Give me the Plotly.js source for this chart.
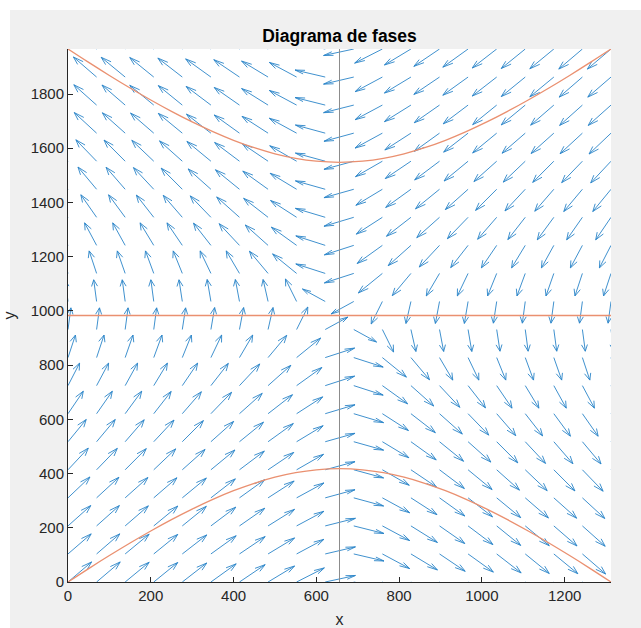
<!DOCTYPE html>
<html>
<head>
<meta charset="utf-8">
<script src="https://cdn.plot.ly/plotly-3.0.1.min.js"></script>
<style>
  html, body { margin: 0; padding: 0; background: #ffffff; }
  #chart { position: absolute; left: 0px; top: 0px; width: 641px; height: 628px; }
</style>
</head>
<body>
<div id="chart"></div>
<script>
// Grid of arrow tails (data units)
const xGrid = [0, 69.1, 138.1, 207.2, 276.2, 345.3, 414.3, 483.4, 552.4, 621.5, 690.5, 759.6, 828.6, 897.7, 966.7, 1035.8, 1104.8, 1173.9, 1242.9, 1312];
const yGrid = [0, 103.5, 206.9, 310.4, 413.9, 517.4, 620.8, 724.3, 827.8, 931.3, 1034.7, 1138.2, 1241.7, 1345.2, 1448.6, 1552.1, 1655.6, 1759.1, 1862.5, 1966];

// Arrow components (data units), one row per yGrid value
const U = [
  [57,57,58,58,59,61,62,64,67,73,73,67,64,62,61,59,58,58,57,57],
  [56,56,58,58,59,61,62,64,66,73,73,66,64,62,61,59,58,58,56,56],
  [55,55,56,58,58,60,61,64,66,73,73,66,64,61,60,58,58,56,55,55],
  [53,54,55,56,58,59,61,63,66,72,72,66,63,61,59,58,56,55,54,53],
  [49,50,51,53,55,58,60,62,65,72,72,65,62,60,58,55,53,51,50,49],
  [44,45,46,49,51,55,58,61,64,72,72,64,61,58,55,51,49,46,45,44],
  [37,38,40,42,46,50,55,59,63,72,72,63,59,55,50,46,42,40,38,37],
  [28,29,30,33,37,42,49,55,61,71,71,61,55,49,42,37,33,30,29,28],
  [18,18,19,20,22,26,32,45,58,71,71,58,45,32,26,22,20,19,18,18],
  [7,7,7,7,8,9,10,12,27,55,55,27,12,10,9,8,7,7,7,7],
  [-7,-7,-7,-7,-8,-9,-10,-12,-27,-55,-55,-27,-12,-10,-9,-8,-7,-7,-7,-7],
  [-18,-18,-19,-20,-22,-26,-32,-45,-58,-71,-71,-58,-45,-32,-26,-22,-20,-19,-18,-18],
  [-28,-29,-30,-33,-37,-42,-49,-55,-61,-71,-71,-61,-55,-49,-42,-37,-33,-30,-29,-28],
  [-37,-38,-40,-42,-46,-50,-55,-59,-63,-72,-72,-63,-59,-55,-50,-46,-42,-40,-38,-37],
  [-44,-45,-46,-49,-51,-55,-58,-61,-64,-72,-72,-64,-61,-58,-55,-51,-49,-46,-45,-44],
  [-49,-50,-51,-53,-55,-58,-60,-62,-65,-72,-72,-65,-62,-60,-58,-55,-53,-51,-50,-49],
  [-53,-54,-55,-56,-58,-59,-61,-63,-66,-72,-72,-66,-63,-61,-59,-58,-56,-55,-54,-53],
  [-55,-55,-56,-58,-58,-60,-61,-64,-66,-73,-73,-66,-64,-61,-60,-58,-58,-56,-55,-55],
  [-56,-56,-58,-58,-59,-61,-62,-64,-66,-73,-73,-66,-64,-62,-61,-59,-58,-58,-56,-56],
  [-57,-57,-58,-58,-59,-61,-62,-64,-67,-73,-73,-67,-64,-62,-61,-59,-58,-58,-57,-57]
];
const V = [
  [74,74,73,72,70,67,64,59,52,24,-24,-52,-59,-64,-67,-70,-72,-73,-74,-74],
  [74,74,73,72,70,67,64,59,54,26,-26,-54,-59,-64,-67,-70,-72,-73,-74,-74],
  [75,75,74,73,72,69,65,61,54,28,-28,-54,-61,-65,-69,-72,-73,-74,-75,-75],
  [77,76,75,74,73,70,67,62,55,30,-30,-55,-62,-67,-70,-73,-74,-75,-76,-77],
  [80,79,78,77,75,73,69,64,57,30,-30,-57,-64,-69,-73,-75,-77,-78,-79,-80],
  [82,82,81,80,78,75,72,67,59,31,-31,-59,-67,-72,-75,-78,-80,-81,-82,-82],
  [83,83,83,82,81,79,75,70,62,33,-33,-62,-70,-75,-79,-81,-82,-83,-83,-83],
  [83,83,83,83,83,82,80,75,67,35,-35,-67,-75,-80,-82,-83,-83,-83,-83,-83],
  [83,83,83,83,83,83,83,82,72,35,-35,-72,-82,-83,-83,-83,-83,-83,-83,-83],
  [80,80,80,80,80,81,81,81,83,46,-46,-83,-81,-81,-81,-80,-80,-80,-80,-80],
  [80,80,80,80,80,81,81,81,83,46,-46,-83,-81,-81,-81,-80,-80,-80,-80,-80],
  [83,83,83,83,83,83,83,82,72,35,-35,-72,-82,-83,-83,-83,-83,-83,-83,-83],
  [83,83,83,83,83,82,80,75,67,35,-35,-67,-75,-80,-82,-83,-83,-83,-83,-83],
  [83,83,83,82,81,79,75,70,62,33,-33,-62,-70,-75,-79,-81,-82,-83,-83,-83],
  [82,82,81,80,78,75,72,67,59,31,-31,-59,-67,-72,-75,-78,-80,-81,-82,-82],
  [80,79,78,77,75,73,69,64,57,30,-30,-57,-64,-69,-73,-75,-77,-78,-79,-80],
  [77,76,75,74,73,70,67,62,55,30,-30,-55,-62,-67,-70,-73,-74,-75,-76,-77],
  [75,75,74,73,72,69,65,61,54,28,-28,-54,-61,-65,-69,-72,-73,-74,-75,-75],
  [74,74,73,72,70,67,64,59,54,26,-26,-54,-59,-64,-67,-70,-72,-73,-74,-74],
  [74,74,73,72,70,67,64,59,52,24,-24,-52,-59,-64,-67,-70,-72,-73,-74,-74]
];

// Separatrix curves and nullclines
const curveX = [0, 50, 100, 150, 200, 250, 300, 350, 400, 450, 500, 550, 600, 656, 712, 762, 812, 862, 912, 962, 1012, 1062, 1112, 1162, 1212, 1262, 1312];
const curveLowY = [0, 49.5, 97.5, 143.8, 188.1, 230.0, 269.0, 304.8, 336.7, 364.1, 386.5, 403.2, 413.8, 418, 413.8, 403.2, 386.5, 364.1, 336.7, 304.8, 269.0, 230.0, 188.1, 143.8, 97.5, 49.5, 0];
const curveHighY = [1966, 1916.5, 1868.5, 1822.2, 1777.9, 1736.0, 1697.0, 1661.2, 1629.3, 1601.9, 1579.5, 1562.8, 1552.2, 1548, 1552.2, 1562.8, 1579.5, 1601.9, 1629.3, 1661.2, 1697.0, 1736.0, 1777.9, 1822.2, 1868.5, 1916.5, 1966];
const hLineX = [0, 1312];
const hLineY = [983, 983];
const vLineX = [656, 656];
const vLineY = [0, 1966];

const xTicks = [0, 200, 400, 600, 800, 1000, 1200];
const yTicks = [0, 200, 400, 600, 800, 1000, 1200, 1400, 1600, 1800];

// Build quiver shafts and heads
const ax = [], ay = [];
const alpha = 0.3, beta = 0.3;
for (let j = 0; j < yGrid.length; j++) {
  for (let i = 0; i < xGrid.length; i++) {
    const x0 = xGrid[i], y0 = yGrid[j], u = U[j][i], v = V[j][i];
    const tx = x0 + u, ty = y0 + v;
    ax.push(x0, tx, null);
    ay.push(y0, ty, null);
    ax.push(tx - alpha * (u + beta * v), tx, tx - alpha * (u - beta * v), null);
    ay.push(ty - alpha * (v - beta * u), ty, ty - alpha * (v + beta * u), null);
  }
}

const font = "Liberation Sans, Arial, Helvetica, sans-serif";
const data = [
  { x: ax, y: ay, type: 'scatter', mode: 'lines', line: { color: '#2a84c8', width: 0.9 }, hoverinfo: 'skip', showlegend: false },
  { x: vLineX, y: vLineY, type: 'scatter', mode: 'lines', line: { color: '#8c8c8c', width: 1 }, showlegend: false },
  { x: hLineX, y: hLineY, type: 'scatter', mode: 'lines', line: { color: '#ea9070', width: 1.3 }, showlegend: false },
  { x: curveX, y: curveLowY, type: 'scatter', mode: 'lines', line: { color: '#ea9070', width: 1.3, shape: 'spline' }, showlegend: false },
  { x: curveX, y: curveHighY, type: 'scatter', mode: 'lines', line: { color: '#ea9070', width: 1.3, shape: 'spline' }, showlegend: false }
];

// plot area: 543 x 533 px; white page strips (10 px) at the top and left of the grey figure
const layout = {
  width: 641, height: 628,
  margin: { l: 68, r: 30, t: 49, b: 46, pad: 0 },
  paper_bgcolor: '#f0f0f0',
  plot_bgcolor: '#ffffff',
  font: { family: font, size: 15, color: '#262626' },
  shapes: [
    { type: 'rect', xref: 'paper', yref: 'paper', x0: -0.1253, x1: -0.1068, y0: -0.0864, y1: 1.0920, fillcolor: '#ffffff', line: { width: 0 }, layer: 'below' },
    { type: 'rect', xref: 'paper', yref: 'paper', x0: -0.1253, x1: 1.0553, y0: 1.0732, y1: 1.0920, fillcolor: '#ffffff', line: { width: 0 }, layer: 'below' }
  ],
  title: { text: '<b>Diagrama de fases</b>', font: { family: font, size: 17.5, color: '#000000' }, x: 0.5, xanchor: 'center', xref: 'paper', y: 0.9427, yanchor: 'middle', yref: 'container' },
  xaxis: {
    range: [0, 1312], tickvals: xTicks, ticks: 'inside', ticklen: 5, tickcolor: '#262626',
    showline: true, linecolor: '#262626', linewidth: 1, mirror: false, showgrid: false, zeroline: false,
    tickfont: { family: font, size: 15, color: '#262626' },
    title: { text: 'x', font: { family: font, size: 16, color: '#262626' }, standoff: 13 }
  },
  yaxis: {
    range: [0, 1966], tickvals: yTicks, ticks: 'inside', ticklen: 5, tickcolor: '#262626',
    showline: true, linecolor: '#262626', linewidth: 1, mirror: false, showgrid: false, zeroline: false,
    tickfont: { family: font, size: 15, color: '#262626' },
    title: { text: 'y', font: { family: font, size: 16, color: '#262626' }, standoff: 11 }
  },
  showlegend: false
};

Plotly.newPlot('chart', data, layout, { displayModeBar: false, staticPlot: true });
</script>
</body>
</html>
